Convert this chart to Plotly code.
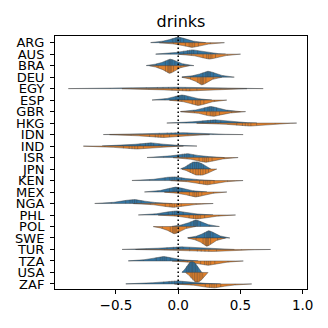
import numpy as np
import plotly.graph_objects as go

# ─────────────────────────────────────────────
# Data

countries = ["ARG", "AUS", "BRA", "DEU", "EGY", "ESP", "GBR", "HKG", "IDN", "IND", "ISR",
             "JPN", "KEN", "MEX", "NGA", "PHL", "POL", "SWE", "TUR", "TZA", "USA", "ZAF"]

# upper (blue) halves
blue_vals = [
    [-0.126, -0.044, -0.019, -0.006, 0.006, 0.019, 0.044, 0.126],
    [-0.06, 0.044, 0.076, 0.092, 0.108, 0.124, 0.156, 0.26],
    [-0.174, -0.103, -0.081, -0.07, -0.06, -0.049, -0.027, 0.044],
    [0.12, 0.198, 0.222, 0.234, 0.246, 0.258, 0.282, 0.36],
    [-0.546, -0.256, -0.167, -0.122, -0.078, -0.033, 0.056, 0.346],
    [-0.107, -0.018, 0.009, 0.023, 0.037, 0.051, 0.078, 0.167],
    [0.123, 0.212, 0.239, 0.253, 0.267, 0.281, 0.308, 0.397],
    [0.064, 0.198, 0.239, 0.26, 0.28, 0.301, 0.342, 0.476],
    [-0.36, -0.152, -0.088, -0.056, -0.024, 0.008, 0.072, 0.28],
    [-0.447, -0.306, -0.263, -0.241, -0.219, -0.197, -0.154, -0.013],
    [-0.117, -0.002, 0.033, 0.051, 0.069, 0.087, 0.122, 0.237],
    [0.077, 0.096, 0.115, 0.132, 0.148, 0.165, 0.184, 0.203],
    [-0.229, -0.106, -0.068, -0.049, -0.031, -0.012, 0.026, 0.149],
    [-0.163, -0.07, -0.041, -0.027, -0.013, 0.001, 0.03, 0.123],
    [-0.537, -0.422, -0.387, -0.369, -0.351, -0.333, -0.298, -0.183],
    [-0.191, -0.08, -0.046, -0.029, -0.011, 0.006, 0.04, 0.151],
    [0.031, 0.102, 0.124, 0.135, 0.145, 0.156, 0.178, 0.249],
    [0.148, 0.211, 0.23, 0.24, 0.25, 0.26, 0.279, 0.342],
    [-0.257, -0.09, -0.039, -0.013, 0.013, 0.039, 0.09, 0.257],
    [-0.28, -0.176, -0.144, -0.128, -0.112, -0.096, -0.064, 0.04],
    [0.068, 0.081, 0.093, 0.105, 0.115, 0.127, 0.139, 0.152],
    [-0.257, -0.116, -0.073, -0.051, -0.029, -0.007, 0.036, 0.177],
]

# lower (orange) halves
orange_vals = [
    [-0.039, 0.058, 0.088, 0.103, 0.117, 0.132, 0.162, 0.259],
    [0.107, 0.2, 0.229, 0.243, 0.257, 0.271, 0.3, 0.393],
    [-0.161, -0.102, -0.084, -0.075, -0.065, -0.056, -0.038, 0.021],
    [0.099, 0.158, 0.176, 0.185, 0.195, 0.204, 0.222, 0.281],
    [-0.236, -0.05, 0.007, 0.036, 0.064, 0.093, 0.15, 0.336],
    [0.029, 0.114, 0.14, 0.153, 0.167, 0.18, 0.206, 0.291],
    [0.131, 0.228, 0.258, 0.273, 0.287, 0.302, 0.332, 0.429],
    [0.321, 0.47, 0.516, 0.539, 0.561, 0.584, 0.63, 0.779],
    [-0.379, -0.23, -0.184, -0.161, -0.139, -0.116, -0.07, 0.079],
    [-0.589, -0.44, -0.394, -0.371, -0.349, -0.326, -0.28, -0.131],
    [0.071, 0.168, 0.198, 0.213, 0.227, 0.242, 0.272, 0.369],
    [0.097, 0.119, 0.141, 0.161, 0.179, 0.199, 0.221, 0.243],
    [0.064, 0.172, 0.205, 0.222, 0.238, 0.255, 0.288, 0.396],
    [-0.003, 0.09, 0.119, 0.133, 0.147, 0.161, 0.19, 0.283],
    [-0.223, -0.104, -0.067, -0.049, -0.031, -0.013, 0.024, 0.143],
    [-0.027, 0.088, 0.123, 0.141, 0.159, 0.177, 0.212, 0.327],
    [-0.127, -0.064, -0.045, -0.035, -0.025, -0.015, 0.004, 0.067],
    [0.144, 0.2, 0.217, 0.226, 0.234, 0.243, 0.26, 0.316],
    [-0.109, 0.092, 0.154, 0.185, 0.215, 0.246, 0.308, 0.509],
    [0.074, 0.18, 0.212, 0.229, 0.245, 0.261, 0.294, 0.4],
    [0.103, 0.117, 0.131, 0.144, 0.156, 0.169, 0.183, 0.197],
    [0.103, 0.218, 0.253, 0.271, 0.289, 0.307, 0.342, 0.457],
]

x_ticks = [-0.5, 0.0, 0.5, 1.0]
x_ticktext = ["\u22120.5", "0.0", "0.5", "1.0"]

BLUE = "#3274a1"
ORANGE = "#e1812c"
GRAY = "rgba(63,63,63,0.75)"
FONT = "DejaVu Sans"

# ─────────────────────────────────────────────
# KDE helpers (gaussian, scott bandwidth, cut=2)

def kde(vals, at):
    v = np.asarray(vals, float)
    bw = v.std(ddof=1) * len(v) ** (-1 / 5)
    z = (np.asarray(at)[:, None] - v[None, :]) / bw
    return np.exp(-0.5 * z ** 2).sum(1) / (len(v) * bw * np.sqrt(2 * np.pi)), bw

def curve(vals, gridsize=150):
    v = np.asarray(vals, float)
    _, bw = kde(v, v)
    grid = np.linspace(v.min() - 2 * bw, v.max() + 2 * bw, gridsize)
    dens, _ = kde(v, grid)
    return grid, dens

halves = []
for i in range(len(countries)):
    for vals, color, sign in [(blue_vals[i], BLUE, -1), (orange_vals[i], ORANGE, 1)]:
        grid, dens = curve(vals)
        sticks, _ = kde(vals, vals)
        halves.append((i, vals, color, sign, grid, dens, sticks))

peak = max(h[5].max() for h in halves)
scale = 0.95 / peak

# ─────────────────────────────────────────────
# Traces

fig = go.Figure()
for i, vals, color, sign, grid, dens, sticks in halves:
    xs = np.concatenate([grid, grid[::-1]])
    ys = np.concatenate([i + sign * dens * scale, np.full(len(grid), i)])
    fig.add_trace(go.Scatter(x=xs, y=ys, mode="lines", fill="toself", fillcolor=color,
                             line=dict(color=GRAY, width=0.6), hoverinfo="skip", showlegend=False))
    sx, sy = [], []
    for v, d in zip(vals, sticks):
        sx += [v, v, None]
        sy += [i, i + sign * d * scale, None]
    fig.add_trace(go.Scatter(x=sx, y=sy, mode="lines", line=dict(color=GRAY, width=0.5),
                             hoverinfo="skip", showlegend=False))

fig.add_shape(type="line", x0=0, x1=0, y0=0, y1=1, xref="x", yref="paper", layer="above",
              line=dict(color="black", width=1.5, dash="1.5px,2.5px"))

# page body has an 8px margin, so the figure is 320 wide and margins are shifted
fig.update_layout(
    width=320, height=320,
    margin=dict(l=47, r=21, t=28, b=39),
    paper_bgcolor="white", plot_bgcolor="white",
    font=dict(family=FONT, size=13, color="black"),
    title=dict(text="drinks", x=0.5, xref="paper", xanchor="center",
               y=1 - 19 / 320, yref="container", yanchor="bottom",
               font=dict(family=FONT, size=16, color="black")),
    showlegend=False,
)
fig.update_xaxes(range=[-0.99, 1.035], tickvals=x_ticks, ticktext=x_ticktext,
                 ticks="outside", ticklen=4, tickwidth=0.8, tickcolor="black",
                 tickfont=dict(size=13.5), automargin=False,
                 showline=True, mirror=True, linecolor="black", linewidth=1,
                 showgrid=False, zeroline=False)
fig.update_yaxes(range=[21.44, -0.58], tickvals=list(range(len(countries))), ticktext=countries,
                 ticks="outside", ticklen=4, tickwidth=0.8, tickcolor="black",
                 ticklabelstandoff=3, automargin=False,
                 showline=True, mirror=True, linecolor="black", linewidth=1,
                 showgrid=False, zeroline=False)

fig.write_html("out.html")
